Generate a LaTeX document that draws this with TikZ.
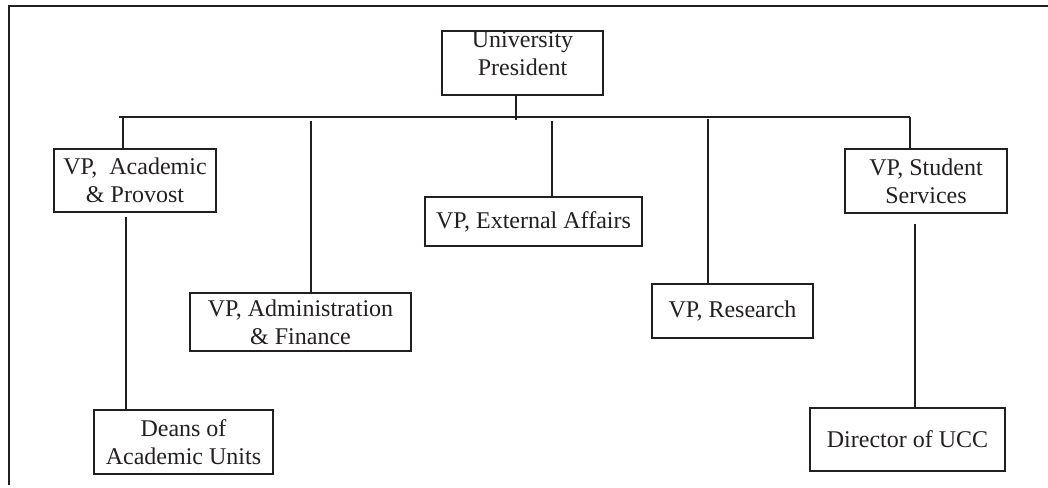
\documentclass[tikz,border=0pt]{standalone}
\usepackage{fontspec}
\setmainfont{Liberation Serif}
\usetikzlibrary{positioning}
\definecolor{ink}{HTML}{231F20}
\tikzstyle{unit} = [draw, line width=2.6pt, inner sep=0pt, align=center, font=\fontsize{24}{28}\selectfont]
\tikzstyle{link} = [line width=2.6pt]

\begin{document}
\begin{tikzpicture}[x=1pt, y=-1pt, color=ink]
\useasboundingbox (0,0) rectangle (1048,487);

\draw[link] (9,485) -- (9,6) -- (1048,6);

\node[unit, minimum width=161pt, minimum height=64pt, text depth=19pt] (pres) at (522.5,63) {University\\President};

\node[unit, minimum width=162pt, minimum height=63pt] (acad) at (135,180.5) {VP,\ \ Academic\\\& Provost};
\node[unit, minimum width=221pt, minimum height=58pt] (admin) at (300.5,322) {VP, Administration\\\& Finance};
\node[unit, minimum width=217pt, minimum height=49pt] (ext) at (533.5,221.5) {VP, External Affairs};
\node[unit, minimum width=161pt, minimum height=54pt] (res) at (732.5,311) {VP, Research};
\node[unit, minimum width=162pt, minimum height=64pt] (stud) at (926,181) {VP, Student\\Services};

\node[unit, minimum width=179pt, minimum height=64pt] (deans) at (183.5,442) {Deans of\\Academic Units};
\node[unit, minimum width=195pt, minimum height=63pt] (ucc) at (907.5,439.5) {Director of UCC};

% bus
\coordinate (bus_l) at (119,117);
\coordinate (bus_r) at (910,117);
\draw[link] (bus_l) -- (bus_r);

\coordinate (p_1) at (516,120);
\coordinate (a_1) at (123,117);
\coordinate (b_1) at (311,121);
\coordinate (c_1) at (552,121);
\coordinate (d_1) at (708,119);
\coordinate (a_2) at (126,217);
\coordinate (s_2) at (915,224);

\draw[link] (pres.south -| p_1) -- (p_1);
\draw[link] (a_1) -- (a_1 |- acad.north);
\draw[link] (b_1) -- (b_1 |- admin.north);
\draw[link] (c_1) -- (c_1 |- ext.north);
\draw[link] (d_1) -- (d_1 |- res.north);
\draw[link] (bus_r) -- (bus_r |- stud.north);

\draw[link] (a_2) -- (a_2 |- deans.north);
\draw[link] (s_2) -- (s_2 |- ucc.north);

\end{tikzpicture}
\end{document}
